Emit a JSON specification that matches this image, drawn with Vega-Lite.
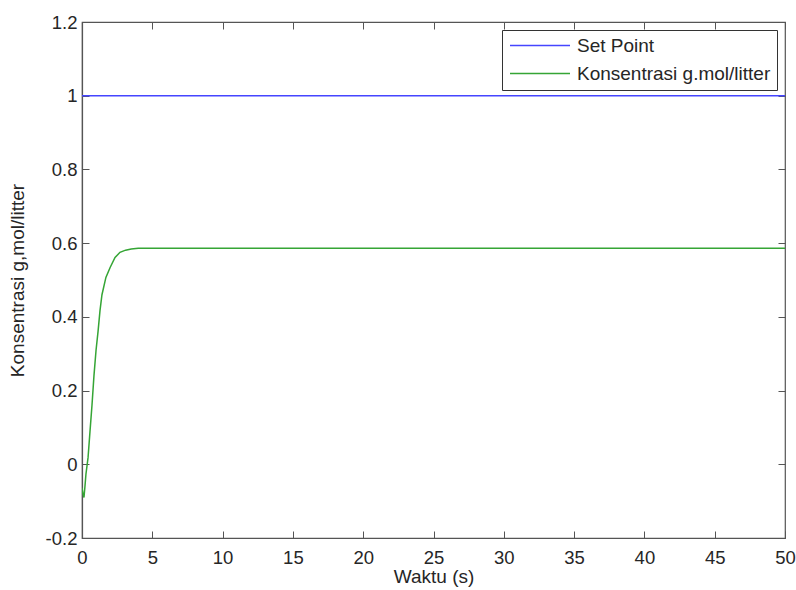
{
  "$schema": "https://vega.github.io/schema/vega-lite/v6.json",
  "width": 703,
  "height": 516,
  "autosize": {"type": "none"},
  "padding": {"left": 82, "top": 22, "right": 11, "bottom": 52},
  "background": "white",
  "config": {
    "font": "Liberation Sans",
    "view": {"stroke": "#555555", "strokeWidth": 1.2},
    "axis": {
      "grid": false,
      "domainColor": "#555555",
      "tickColor": "#555555",
      "labelColor": "#262626",
      "titleColor": "#262626",
      "labelFont": "Liberation Sans",
      "titleFont": "Liberation Sans",
      "labelFontSize": 18.5,
      "titleFontSize": 19,
      "titleFontWeight": "normal",
      "labelFlush": false,
      "tickSize": -7,
      "domainWidth": 1.2
    }
  },
  "datasets": {
    "series": [
      {"t": 0, "v": 1, "s": "Set Point"},
      {"t": 50, "v": 1, "s": "Set Point"},
      {"t": 0, "v": -0.064, "s": "Konsentrasi g.mol/litter"},
      {"t": 0.07, "v": -0.08, "s": "Konsentrasi g.mol/litter"},
      {"t": 0.14, "v": -0.09, "s": "Konsentrasi g.mol/litter"},
      {"t": 0.21, "v": -0.06, "s": "Konsentrasi g.mol/litter"},
      {"t": 0.28, "v": -0.027, "s": "Konsentrasi g.mol/litter"},
      {"t": 0.43, "v": 0.018, "s": "Konsentrasi g.mol/litter"},
      {"t": 0.57, "v": 0.09, "s": "Konsentrasi g.mol/litter"},
      {"t": 0.71, "v": 0.16, "s": "Konsentrasi g.mol/litter"},
      {"t": 0.85, "v": 0.24, "s": "Konsentrasi g.mol/litter"},
      {"t": 1.0, "v": 0.31, "s": "Konsentrasi g.mol/litter"},
      {"t": 1.14, "v": 0.36, "s": "Konsentrasi g.mol/litter"},
      {"t": 1.28, "v": 0.417, "s": "Konsentrasi g.mol/litter"},
      {"t": 1.42, "v": 0.46, "s": "Konsentrasi g.mol/litter"},
      {"t": 1.7, "v": 0.507, "s": "Konsentrasi g.mol/litter"},
      {"t": 2.0, "v": 0.534, "s": "Konsentrasi g.mol/litter"},
      {"t": 2.35, "v": 0.561, "s": "Konsentrasi g.mol/litter"},
      {"t": 2.7, "v": 0.575, "s": "Konsentrasi g.mol/litter"},
      {"t": 3.1, "v": 0.581, "s": "Konsentrasi g.mol/litter"},
      {"t": 3.5, "v": 0.584, "s": "Konsentrasi g.mol/litter"},
      {"t": 4.0, "v": 0.586, "s": "Konsentrasi g.mol/litter"},
      {"t": 5.0, "v": 0.586, "s": "Konsentrasi g.mol/litter"},
      {"t": 50, "v": 0.586, "s": "Konsentrasi g.mol/litter"}
    ]
  },
  "data": {"name": "series"},
  "layer": [
    {
      "mark": {"type": "line", "strokeWidth": 1.5, "clip": true},
      "encoding": {
        "x": {
          "field": "t", "type": "quantitative",
          "scale": {"domain": [0, 50], "nice": false},
          "axis": {"values": [0,5,10,15,20,25,30,35,40,45,50], "title": "Waktu (s)", "labelPadding": 17, "titlePadding": 1}
        },
        "y": {
          "field": "v", "type": "quantitative",
          "scale": {"domain": [-0.2, 1.2], "nice": false, "zero": false},
          "axis": {
            "values": [-0.2, 0, 0.2, 0.4, 0.6, 0.8, 1, 1.2],
            "labelExpr": "datum.value < 0 ? '-' + format(-datum.value, '') : format(datum.value, '')",
            "title": "Konsentrasi g,mol/litter",
            "labelPadding": 12,
            "titlePadding": 18
          }
        },
        "color": {
          "field": "s", "type": "nominal",
          "scale": {"domain": ["Set Point", "Konsentrasi g.mol/litter"], "range": ["#4545ff", "#35a535"]},
          "legend": {
            "title": null,
            "orient": "top-right",
            "offset": 8,
            "symbolType": "M-1,0H7",
            "symbolSize": 225,
            "symbolStrokeWidth": 1.5,
            "labelFontSize": 19,
            "labelFont": "Liberation Sans",
            "labelColor": "#262626",
            "labelLimit": 0,
            "strokeColor": "#333333",
            "fillColor": "white",
            "padding": 6,
            "rowPadding": 8,
            "labelOffset": 50
          }
        }
      }
    },
    {
      "mark": {"type": "line", "opacity": 0},
      "encoding": {
        "x": {
          "field": "t", "type": "quantitative",
          "axis": {"orient": "top", "values": [0,5,10,15,20,25,30,35,40,45,50], "labels": false, "title": null, "domain": false}
        },
        "y": {
          "field": "v", "type": "quantitative",
          "axis": {"orient": "right", "values": [-0.2, 0, 0.2, 0.4, 0.6, 0.8, 1, 1.2], "labels": false, "title": null, "domain": false}
        }
      }
    }
  ],
  "resolve": {"axis": {"x": "independent", "y": "independent"}}
}
